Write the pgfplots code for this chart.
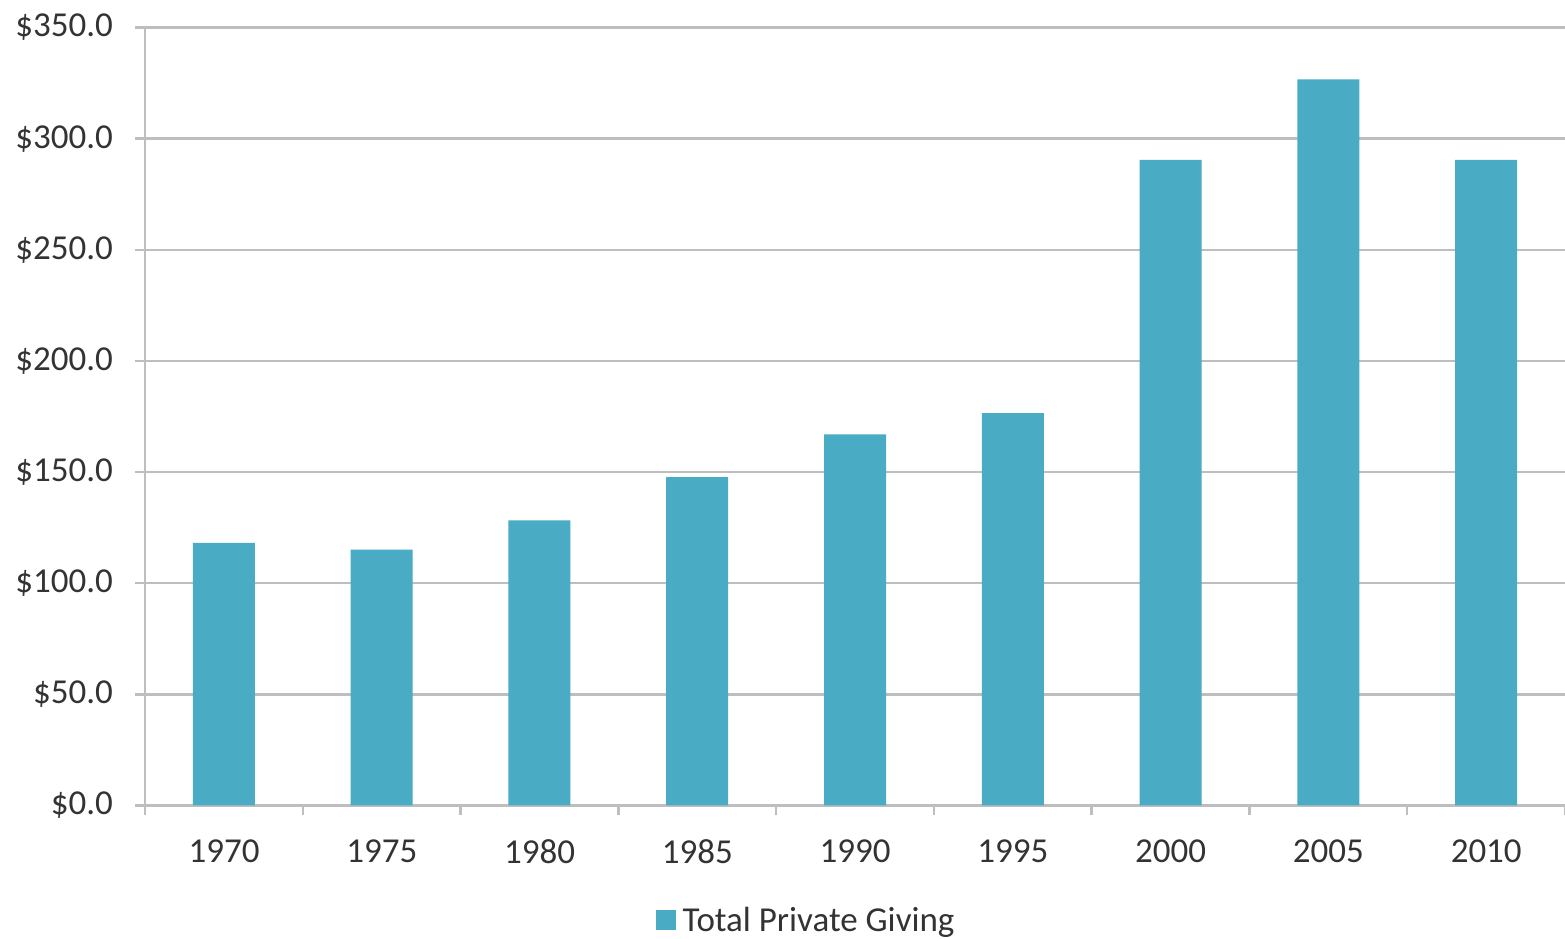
\documentclass[border=0pt]{standalone}
\usepackage{pgfplots}
\pgfplotsset{compat=1.18}
\usepackage{fontspec}
\setmainfont{Carlito}
\definecolor{barc}{HTML}{4AABC5}
\definecolor{gridc}{HTML}{BEBEBE}
\definecolor{txt}{HTML}{333333}
\begin{document}
\begin{tikzpicture}
\begin{axis}[
  scale only axis, width=710pt, height=389pt,
  xmin=-0.5, xmax=8.5, ymin=0, ymax=350,
  axis lines=left, axis line style={-, draw=gridc, line width=1.2pt},
  ybar, bar width=31pt,
  /pgf/number format/assume math mode=true,
  ytick={0,50,...,350},
  yticklabel={\$\pgfmathprintnumber[fixed,fixed zerofill,precision=1]{\tick}},
  xtick={-0.5,0.5,...,8.5},
  xticklabels={1970,1975,1980,1985,1990,1995,2000,2005,2010,{}},
  xticklabel style={xshift=39.5pt, yshift=-8.5pt},
  yticklabel style={xshift=-7.5pt},
  tick align=outside, major tick length=5pt,
  tick style={draw=gridc, line width=1.2pt},
  ymajorgrids, grid style={draw=gridc, line width=1.2pt},
  tick label style={font=\fontsize{17.5}{20}\selectfont, text=txt},
  legend style={draw=none, at={(0.4655,0)}, anchor=center, yshift=-57.5pt,
    inner sep=0pt, nodes={inner sep=1pt},
    font=\fontsize{17.5}{20}\selectfont, text=txt},
  legend image code/.code={\fill[barc] (0pt,-5pt) rectangle (10pt,5pt); \path (12.5pt,0pt);},
]
\addplot[fill=barc, draw=none] coordinates {
  (0,118.1) (1,115.1) (2,128.3) (3,147.7) (4,166.9)
  (5,176.5) (6,290.4) (7,326.7) (8,290.4)
};
\legend{Total Private Giving}
\end{axis}
\pgfresetboundingbox
\path ([shift={(-72.5pt,-66.75pt)}]current axis.south west) rectangle ([shift={(0pt,13.75pt)}]current axis.north east);
\end{tikzpicture}
\end{document}
